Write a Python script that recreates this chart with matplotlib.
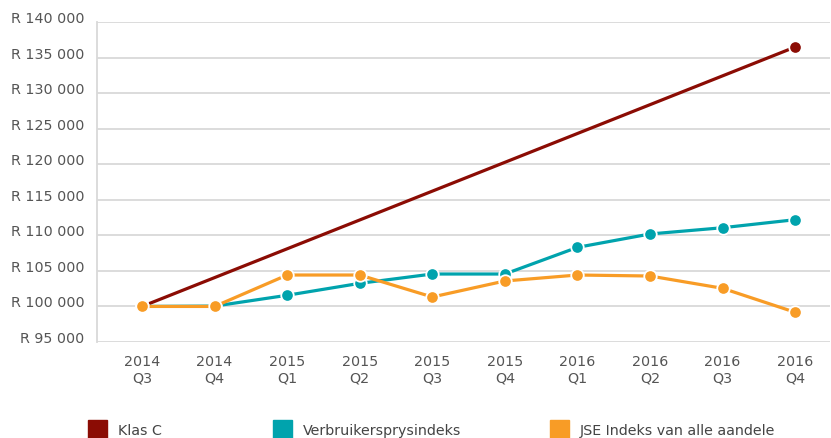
import matplotlib.pyplot as plt
from matplotlib.patches import Rectangle

# Kwartale
kwartale = ["2014\nQ3", "2014\nQ4", "2015\nQ1", "2015\nQ2", "2015\nQ3",
            "2015\nQ4", "2016\nQ1", "2016\nQ2", "2016\nQ3", "2016\nQ4"]

# Klas C: net begin- en eindpunt
klas_c_idx = [0, 9]
klas_c = [100000, 136480]

verbruikersprysindeks = [100000, 100050, 101570, 103250, 104560,
                         104560, 108310, 110190, 111070, 112200]

jse_indeks = [100000, 100000, 104420, 104420, 101330,
              103580, 104420, 104280, 102550, 99180]

y_ticks = list(range(95000, 140001, 5000))

reeks_name = ["Klas C", "Verbruikersprysindeks", "JSE Indeks van alle aandele"]
kleure = ["#8b0c04", "#00a3ad", "#f89c26"]

plt.rcParams['font.family'] = ['DejaVu Sans']

fig = plt.figure(figsize=(8.31, 4.39), dpi=100)
ax = fig.add_axes([97 / 831, 1 - 343 / 439, (830 - 97) / 831, (343 - 23) / 439])

x = list(range(len(kwartale)))

ax.plot(klas_c_idx, klas_c, color=kleure[0], lw=2.3, marker='o', ms=9,
        mec='white', mew=1.3, zorder=3)
ax.plot(x, verbruikersprysindeks, color=kleure[1], lw=2.3, marker='o', ms=9,
        mec='white', mew=1.3, zorder=4)
ax.plot(x, jse_indeks, color=kleure[2], lw=2.3, marker='o', ms=9,
        mec='white', mew=1.3, zorder=5)

ax.set_xlim(-0.62, 9.48)
ax.set_ylim(95000, 140000)
ax.set_yticks(y_ticks)
ax.set_yticklabels(["R " + f"{v:,}".replace(",", " ") for v in y_ticks])
ax.set_xticks(x)
ax.set_xticklabels(kwartale)

ax.grid(axis='y', color='#d9d9d9', lw=1.3)
ax.set_axisbelow(True)
for s in ['top', 'right', 'bottom']:
    ax.spines[s].set_visible(False)
ax.spines['left'].set_color('#d9d9d9')
ax.spines['left'].set_linewidth(1.3)
ax.tick_params(length=0, colors='#555555', labelsize=10.3)
ax.tick_params(axis='y', pad=9)
ax.tick_params(axis='x', pad=9)
for lbl in ax.get_yticklabels():
    lbl.set_va('baseline')

# Legende onderaan
leg_x = [88, 273, 550]
for lx, naam, kl in zip(leg_x, reeks_name, kleure):
    fig.add_artist(Rectangle((lx / 831, 0), 19 / 831, 18 / 439,
                             transform=fig.transFigure, color=kl))
    fig.text((lx + 30) / 831, 1 - 431 / 439, naam, fontsize=10.3,
             color='#444444', va='center', ha='left')

fig.savefig("out.png", dpi=100)
